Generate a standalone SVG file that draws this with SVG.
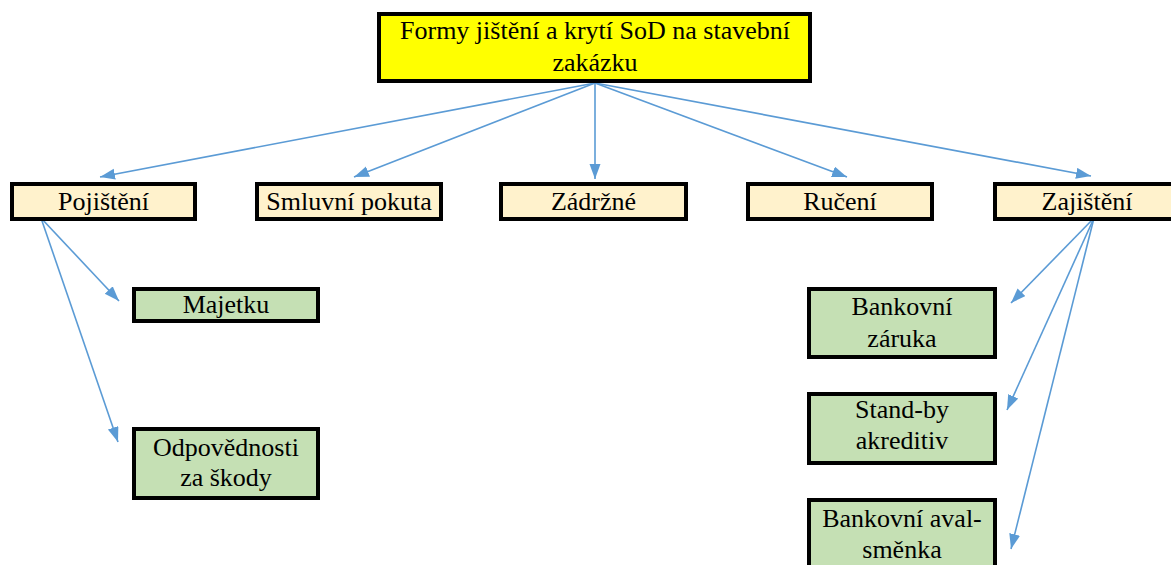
<svg xmlns="http://www.w3.org/2000/svg" width="1171" height="565" viewBox="0 0 1171 565">
<defs>
<marker id="ah" markerWidth="16" markerHeight="12" refX="15" refY="5.5" orient="auto" markerUnits="userSpaceOnUse">
<path d="M0,0 L15,5.5 L0,11 z" fill="#5B9BD5"/>
</marker>
<style>
.box{stroke:#000;stroke-width:4}
.top{fill:#FFFF00}
.l1{fill:#FFF2CC}
.l2{fill:#C5E0B4}
text{font-size:26px;fill:#000;text-anchor:middle}
.c{stroke:#5B9BD5;stroke-width:1.6;fill:none;marker-end:url(#ah)}
</style>
</defs>
<rect width="1171" height="565" fill="#fff"/>
<g id="connectors">
<line class="c" x1="595" y1="83" x2="100" y2="177"/>
<line class="c" x1="595" y1="83" x2="354" y2="177"/>
<line class="c" x1="595" y1="83" x2="595" y2="179"/>
<line class="c" x1="595" y1="83" x2="847" y2="177"/>
<line class="c" x1="595" y1="83" x2="1091" y2="176"/>
<line class="c" x1="41" y1="218" x2="119" y2="301"/>
<line class="c" x1="41" y1="218" x2="118" y2="442"/>
<line class="c" x1="1094" y1="218" x2="1011" y2="303"/>
<line class="c" x1="1094" y1="218" x2="1007" y2="410"/>
<line class="c" x1="1094" y1="218" x2="1011" y2="549"/>
</g>
<g font-family="'Liberation Serif', Tinos, 'DejaVu Serif', serif">
<g id="root">
<rect class="box top" x="379" y="14" width="431" height="67"/>
<text x="595" y="39">Formy jištění a krytí SoD na stavební</text>
<text x="595" y="71">zakázku</text>
</g>
<g id="pojisteni">
<rect class="box l1" x="12" y="184" width="183" height="35"/>
<text x="103.5" y="210">Pojištění</text>
</g>
<g id="smluvni-pokuta">
<rect class="box l1" x="257" y="184" width="184" height="35"/>
<text x="349" y="210">Smluvní pokuta</text>
</g>
<g id="zadrzne">
<rect class="box l1" x="501" y="184" width="185" height="35"/>
<text x="593.5" y="210">Zádržné</text>
</g>
<g id="ruceni">
<rect class="box l1" x="748" y="184" width="184" height="35"/>
<text x="840" y="210">Ručení</text>
</g>
<g id="zajisteni">
<rect class="box l1" x="995" y="184" width="184" height="35"/>
<text x="1087" y="210">Zajištění</text>
</g>
<g id="majetku">
<rect class="box l2" x="134" y="289" width="184" height="32"/>
<text x="226" y="313">Majetku</text>
</g>
<g id="odpovednosti">
<rect class="box l2" x="134" y="429" width="184" height="69"/>
<text x="226" y="456">Odpovědnosti</text>
<text x="226" y="486">za škody</text>
</g>
<g id="bankovni-zaruka">
<rect class="box l2" x="809" y="289" width="186" height="68"/>
<text x="902" y="315">Bankovní</text>
<text x="902" y="347">záruka</text>
</g>
<g id="stand-by">
<rect class="box l2" x="809" y="394" width="186" height="69"/>
<text x="902" y="418">Stand-by</text>
<text x="902" y="449">akreditiv</text>
</g>
<g id="bankovni-aval">
<rect class="box l2" x="809" y="500" width="186" height="75"/>
<text x="902" y="527">Bankovní aval-</text>
<text x="902" y="558">směnka</text>
</g>
</g>
</svg>
